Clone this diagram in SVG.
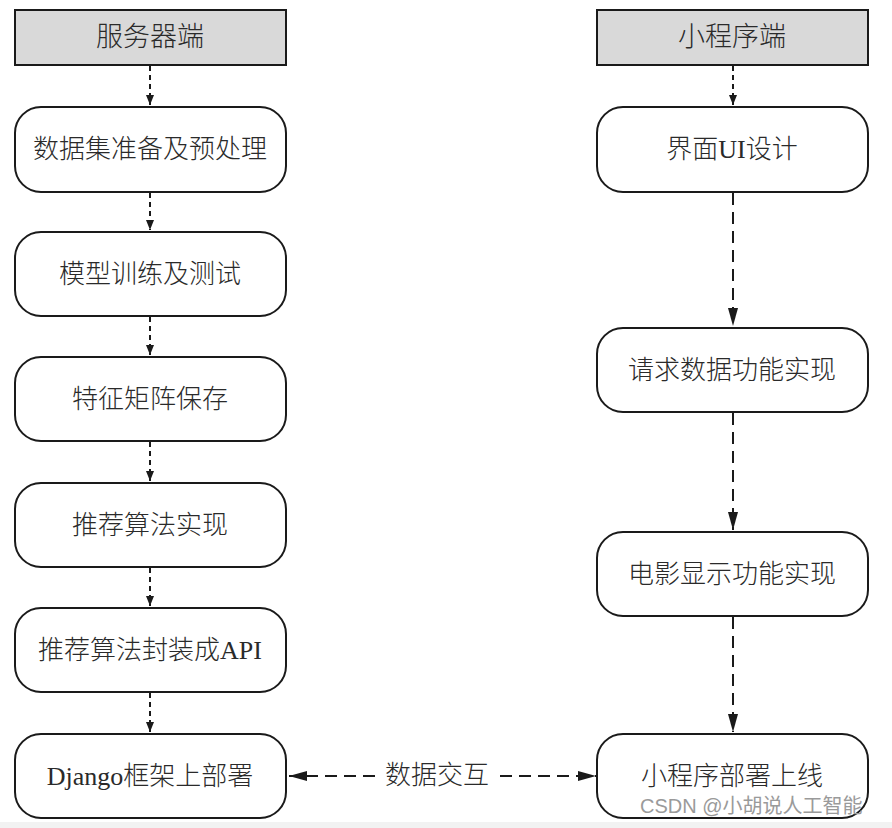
<svg xmlns="http://www.w3.org/2000/svg" width="892" height="828" viewBox="0 0 892 828">
<style>
.hdr{fill:#d9d9d9;stroke:#1a1a1a;stroke-width:2}
.box{fill:#fff;stroke:#1a1a1a;stroke-width:2}
.t{font-family:"Liberation Serif","Noto Sans CJK SC",serif;font-size:26px;font-weight:300;fill:#2a2a2a;text-anchor:middle;dominant-baseline:central}
.h{font-size:27px}
.c1{stroke:#1a1a1a;stroke-width:2;fill:none;stroke-dasharray:5,4}
.c2{stroke:#1a1a1a;stroke-width:2;fill:none;stroke-dasharray:12,7}
.wm{font-family:"Liberation Sans","Noto Sans CJK SC",sans-serif;font-size:20px;fill:#9a9a9a}
</style>
<defs>
<marker id="a2" viewBox="0 0 10 10" refX="10" refY="5" markerWidth="18" markerHeight="10" orient="auto" markerUnits="userSpaceOnUse" preserveAspectRatio="none"><path d="M0,0 L10,5 L0,10 z" fill="#1a1a1a"/></marker>
<marker id="a1s" viewBox="0 0 10 10" refX="10" refY="5" markerWidth="10" markerHeight="10" orient="auto" markerUnits="userSpaceOnUse"><path d="M0,1 L10,5 L0,9 z" fill="#1a1a1a"/></marker>
</defs>
<rect x="0" y="822" width="892" height="6" fill="#f2f2f2"/>
<g id="connectors">
<path class="c1" d="M150,66 V105" marker-end="url(#a1s)"/>
<path class="c1" d="M150,193 V230" marker-end="url(#a1s)"/>
<path class="c1" d="M150,317 V355" marker-end="url(#a1s)"/>
<path class="c1" d="M150,442 V481" marker-end="url(#a1s)"/>
<path class="c1" d="M150,568 V606" marker-end="url(#a1s)"/>
<path class="c1" d="M150,693 V732" marker-end="url(#a1s)"/>
<path class="c1" d="M733,66 V105" marker-end="url(#a1s)"/>
<path class="c2" d="M733,193 V326" marker-end="url(#a2)"/>
<path class="c2" d="M733,413 V530" marker-end="url(#a2)"/>
<path class="c2" d="M733,617 V732" marker-end="url(#a2)"/>
<path class="c2" d="M375,776 H289" marker-end="url(#a2)"/>
<path class="c2" d="M500,776 H596" marker-end="url(#a2)"/>
<text class="t" x="437" y="775">数据交互</text>
</g>
<g id="server-header"><rect class="hdr" x="15" y="10" width="271" height="55"/><text class="t h" x="150" y="37">服务器端</text></g>
<g id="mini-header"><rect class="hdr" x="597" y="10" width="271" height="55"/><text class="t h" x="732" y="37">小程序端</text></g>
<g id="s1"><rect class="box" x="15" y="107" width="271" height="85" rx="26"/><text class="t" x="150" y="149">数据集准备及预处理</text></g>
<g id="s2"><rect class="box" x="15" y="232" width="271" height="84" rx="26"/><text class="t" x="150" y="274">模型训练及测试</text></g>
<g id="s3"><rect class="box" x="15" y="357" width="271" height="84" rx="26"/><text class="t" x="150" y="399">特征矩阵保存</text></g>
<g id="s4"><rect class="box" x="15" y="483" width="271" height="84" rx="26"/><text class="t" x="150" y="525">推荐算法实现</text></g>
<g id="s5"><rect class="box" x="15" y="608" width="271" height="84" rx="26"/><text class="t" x="150" y="650">推荐算法封装成API</text></g>
<g id="s6"><rect class="box" x="15" y="734" width="271" height="84" rx="26"/><text class="t" x="150" y="776">Django框架上部署</text></g>
<g id="m1"><rect class="box" x="597" y="107" width="271" height="85" rx="26"/><text class="t" x="732" y="149">界面UI设计</text></g>
<g id="m2"><rect class="box" x="597" y="328" width="271" height="84" rx="26"/><text class="t" x="732" y="370">请求数据功能实现</text></g>
<g id="m3"><rect class="box" x="597" y="532" width="271" height="84" rx="26"/><text class="t" x="732" y="574">电影显示功能实现</text></g>
<g id="m4"><rect class="box" x="597" y="734" width="271" height="84" rx="26"/><text class="t" x="732" y="776">小程序部署上线</text></g>
<text class="wm" x="640" y="813">CSDN @小胡说人工智能</text>
</svg>
